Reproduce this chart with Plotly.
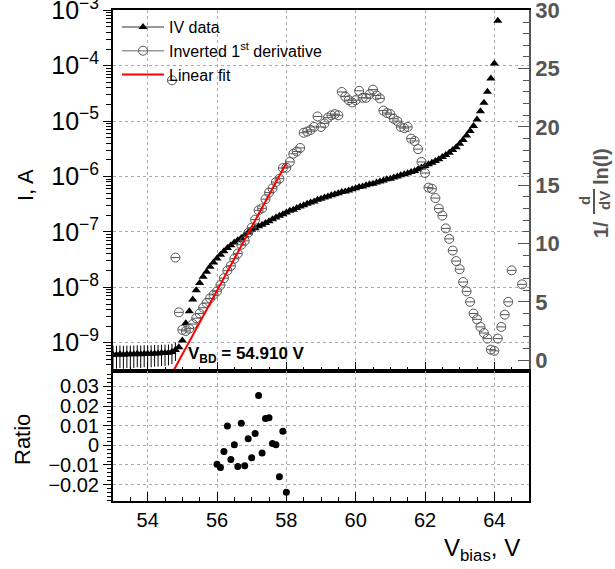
import plotly.graph_objects as go

FONT = "Liberation Sans, Arial, sans-serif"

# ---------------- data ----------------
iv_v = [53.0, 53.1, 53.2, 53.3, 53.4, 53.5, 53.6, 53.7, 53.8, 53.9,
        54.0, 54.1, 54.2, 54.3, 54.4, 54.5, 54.6, 54.7, 54.8, 54.9,
        55.0, 55.1, 55.2, 55.3, 55.4, 55.5, 55.6, 55.7, 55.8, 55.9,
        56.0, 56.1, 56.2, 56.3, 56.4, 56.5, 56.6, 56.7, 56.8, 56.9,
        57.0, 57.1, 57.2, 57.3, 57.4, 57.5, 57.6, 57.7, 57.8, 57.9,
        58.0, 58.1, 58.2, 58.3, 58.4, 58.5, 58.6, 58.7, 58.8, 58.9,
        59.0, 59.1, 59.2, 59.3, 59.4, 59.5, 59.6, 59.7, 59.8, 59.9,
        60.0, 60.1, 60.2, 60.3, 60.4, 60.5, 60.6, 60.7, 60.8, 60.9,
        61.0, 61.1, 61.2, 61.3, 61.4, 61.5, 61.6, 61.7, 61.8, 61.9,
        62.0, 62.1, 62.2, 62.3, 62.4, 62.5, 62.6, 62.7, 62.8, 62.9,
        63.0, 63.1, 63.2, 63.3, 63.4, 63.5, 63.6, 63.7, 63.8, 63.9,
        64.0, 64.1]
iv_i = [6.1e-10, 6.1e-10, 6.2e-10, 6.1e-10, 6.2e-10, 6.2e-10, 6.2e-10, 6.3e-10, 6.2e-10, 6.3e-10,
        6.3e-10, 6.3e-10, 6.4e-10, 6.4e-10, 6.5e-10, 6.5e-10, 6.6e-10, 6.8e-10, 7.4e-10, 8.3e-10,
        1.10e-9, 2.24e-9, 3.7e-9, 6.0e-9, 8.9e-9, 1.20e-8, 1.55e-8, 1.91e-8, 2.34e-8, 2.82e-8,
        3.31e-8, 3.89e-8, 4.47e-8, 5.13e-8, 5.75e-8, 6.46e-8, 7.08e-8, 7.76e-8, 8.71e-8, 9.77e-8,
        1.10e-7, 1.17e-7, 1.26e-7, 1.35e-7, 1.45e-7, 1.55e-7, 1.70e-7, 1.82e-7, 1.95e-7, 2.09e-7,
        2.24e-7, 2.40e-7, 2.51e-7, 2.69e-7, 2.88e-7, 3.02e-7, 3.24e-7, 3.39e-7, 3.55e-7, 3.80e-7,
        3.98e-7, 4.17e-7, 4.37e-7, 4.57e-7, 4.79e-7, 5.01e-7, 5.25e-7, 5.37e-7, 5.62e-7, 5.89e-7,
        6.17e-7, 6.46e-7, 6.61e-7, 6.92e-7, 7.24e-7, 7.41e-7, 7.76e-7, 8.13e-7, 8.51e-7, 8.91e-7,
        9.12e-7, 9.55e-7, 1.00e-6, 1.05e-6, 1.10e-6, 1.15e-6, 1.20e-6, 1.26e-6, 1.35e-6, 1.45e-6,
        1.55e-6, 1.66e-6, 1.78e-6, 1.91e-6, 2.04e-6, 2.24e-6, 2.45e-6, 2.69e-6, 3.02e-6, 3.39e-6,
        3.89e-6, 4.57e-6, 5.50e-6, 6.61e-6, 8.13e-6, 1.07e-5, 1.51e-5, 2.14e-5, 3.39e-5, 5.89e-5,
        1.10e-4, 6.46e-4]
iv_err = [2.7e-10] * 19 + [0.0] * 93

der_v = [54.7, 54.8, 54.9, 55.0, 55.1, 55.2, 55.3, 55.4, 55.5, 55.6, 55.7, 55.8, 55.9,
         56.0, 56.1, 56.2, 56.3, 56.4, 56.5, 56.6, 56.7, 56.8, 56.9,
         57.0, 57.1, 57.2, 57.3, 57.4, 57.5, 57.6, 57.7, 57.8, 57.9,
         58.0, 58.1, 58.2, 58.3, 58.4, 58.5, 58.6, 58.7, 58.8, 58.9,
         59.0, 59.1, 59.2, 59.3, 59.4, 59.5, 59.6, 59.7, 59.8, 59.9,
         60.0, 60.1, 60.2, 60.3, 60.4, 60.5, 60.6, 60.7, 60.8, 60.9,
         61.0, 61.1, 61.2, 61.3, 61.4, 61.5, 61.6, 61.7, 61.8, 61.9,
         62.0, 62.1, 62.2, 62.3, 62.4, 62.5, 62.6, 62.7, 62.8, 62.9,
         63.0, 63.1, 63.2, 63.3, 63.4, 63.5, 63.6, 63.7, 63.8, 63.9,
         64.0, 64.1, 64.2, 64.3, 64.4, 64.5, 64.8]
der_val = [24.0, 8.8, 4.1, 2.6, 2.5, 2.7, 3.1, 3.6, 4.0, 4.5, 4.9, 5.3, 5.6,
           5.90, 6.44, 7.03, 7.68, 8.09, 8.70, 9.14, 9.90, 10.23, 10.92,
           11.36, 12.05, 12.85, 13.02, 13.81, 14.37, 14.73, 15.27, 15.56, 16.48,
           16.50, 17.0, 17.7, 17.9, 18.2, 19.5, 19.6, 19.75, 20.0, 20.9,
           20.0, 20.3, 20.8, 21.0, 21.1, 21.0, 23.0, 22.6, 22.3, 22.1,
           22.3, 23.1, 22.5, 22.5, 22.8, 23.2, 22.7, 22.45, 21.4, 21.2,
           21.1, 20.7, 20.5, 20.0, 19.9, 20.0, 19.0, 18.8, 18.1, 17.0,
           16.05, 14.8, 14.7, 13.9, 13.0, 12.4, 11.3, 10.4, 9.4, 8.5,
           7.8, 6.7, 5.9, 5.0, 4.0, 3.5, 2.85, 2.33, 1.85, 0.9,
           0.8, 1.85, 2.85, 3.9, 5.0, 7.7, 6.5]

ratio_v = [56.0, 56.1, 56.2, 56.3, 56.4, 56.5, 56.6, 56.7, 56.8, 56.9, 57.0,
           57.1, 57.2, 57.3, 57.4, 57.5, 57.6, 57.7, 57.8, 57.9, 58.0]
ratio_val = [-0.0096, -0.0113, -0.0032, 0.0099, -0.0072, 0.0003, -0.0108, 0.0113, -0.0104, 0.0034, -0.0063,
             0.0060, 0.0254, -0.0039, 0.0137, 0.0140, 0.0009, 0.0003, -0.0160, 0.0072, -0.0239]

v_bd = 54.910
fit_slope = 5.47
fit_range = [54.6, 58.0]

x_ticks = [54, 56, 58, 60, 62, 64]

# ---------------- geometry helpers ----------------
W, H = 615, 569
L, R, T, B = 113, 86, 10, 68
PW, PH = W - L - R, H - T - B
split = (H - B - 371) / PH


def px(x):
    return (x - L) / PW


def py(y):
    return (H - B - y) / PH


fit_y = [fit_slope * (v - v_bd) for v in fit_range]

GRAY = "#555555"
fig = go.Figure()

# IV data
fig.add_trace(go.Scatter(
    x=iv_v, y=iv_i, mode="markers", xaxis="x", yaxis="y", showlegend=False,
    marker=dict(symbol="triangle-up", size=8, color="black"),
    error_y=dict(type="data", array=iv_err, color="black", thickness=1, width=0),
    error_x=dict(type="constant", value=0.07, color="black", thickness=1, width=0),
))
# inverted derivative
fig.add_trace(go.Scatter(
    x=der_v, y=der_val, mode="markers", xaxis="x", yaxis="y3", showlegend=False,
    marker=dict(symbol="circle-open", size=9, color=GRAY, line=dict(width=1, color=GRAY)),
    error_x=dict(type="constant", value=0.12, color=GRAY, thickness=1, width=0),
))
# linear fit
fig.add_trace(go.Scatter(
    x=fit_range, y=fit_y, mode="lines", xaxis="x", yaxis="y3", showlegend=False,
    line=dict(color="red", width=2),
))
# ratio
fig.add_trace(go.Scatter(
    x=ratio_v, y=ratio_val, mode="markers", xaxis="x2", yaxis="y2", showlegend=False,
    marker=dict(symbol="circle", size=7, color="black"),
))

# legend entries
fig.add_trace(go.Scatter(x=[None], y=[None], mode="lines+markers", name="IV data",
                         xaxis="x", yaxis="y",
                         line=dict(color="#777777", width=1.5),
                         marker=dict(symbol="triangle-up", size=8, color="black")))
fig.add_trace(go.Scatter(x=[None], y=[None], mode="lines+markers",
                         name="Inverted 1<sup>st</sup> derivative",
                         xaxis="x", yaxis="y3",
                         line=dict(color="#999999", width=1.5),
                         marker=dict(symbol="circle-open", size=9, color=GRAY)))
fig.add_trace(go.Scatter(x=[None], y=[None], mode="lines", name="Linear fit",
                         xaxis="x", yaxis="y3", line=dict(color="red", width=2)))

grid = dict(showgrid=True, gridcolor="#aaaaaa", griddash="dot", gridwidth=1)

xcommon = dict(range=[53, 65], tick0=54, dtick=2, ticks="inside", ticklen=9,
               tickcolor="black", tickwidth=1,
               minor=dict(dtick=0.5, ticks="inside", ticklen=4, tickcolor="black", showgrid=False),
               showline=True, linecolor="black", linewidth=1.5, mirror=True,
               zeroline=False, **grid)

fig.update_layout(
    width=W, height=H,
    margin=dict(l=L, r=R, t=T, b=B, pad=0, autoexpand=False),
    paper_bgcolor="white", plot_bgcolor="white",
    font=dict(family=FONT, color="black"),
    xaxis=dict(anchor="y", domain=[0, 1], showticklabels=False, **xcommon),
    xaxis2=dict(anchor="y2", domain=[0, 1], matches="x", showticklabels=True,
                tickvals=x_ticks, tickfont=dict(size=20, family=FONT), **xcommon),
    yaxis=dict(type="log", range=[-9.51, -2.995], domain=[split, 1], anchor="x",
               dtick=1, exponentformat="power", tickfont=dict(size=20, family=FONT),
               ticklabeloverflow="allow",
               ticks="outside", ticklen=8, tickcolor="black",
               minor=dict(ticks="outside", ticklen=5, tickcolor="black", showgrid=False),
               showline=True, linecolor="black", linewidth=2, zeroline=False, **grid),
    yaxis3=dict(overlaying="y", side="right", anchor="x", range=[-0.93, 30.03],
                tick0=0, dtick=5, ticks="inside", ticklen=11, tickcolor=GRAY,
                ticklabeloverflow="allow",
                minor=dict(dtick=1, ticks="inside", ticklen=6, tickcolor=GRAY, showgrid=False),
                tickfont=dict(size=22, family=FONT, color=GRAY, weight="bold"),
                showline=True, linecolor=GRAY, linewidth=1.5, showgrid=False, zeroline=False),
    yaxis2=dict(domain=[0, split], anchor="x2", range=[-0.0284, 0.0379],
                tick0=0, dtick=0.01, tickfont=dict(size=20, family=FONT),
                ticks="outside", ticklen=8, tickcolor="black",
                minor=dict(dtick=0.002, ticks="outside", ticklen=4, tickcolor="black", showgrid=False),
                showline=True, linecolor="black", linewidth=2, mirror=True, zeroline=False, **grid),
    legend=dict(x=px(117), y=1.0, xanchor="left", yanchor="top", bgcolor="rgba(0,0,0,0)",
                font=dict(size=16, family=FONT), tracegroupgap=0, itemwidth=42),
)

ann = []
ann.append(dict(x=px(25), y=py(185), text="I, A", textangle=-90,
                font=dict(size=22, family=FONT)))
ann.append(dict(x=px(22), y=py(440), text="Ratio", textangle=-90,
                font=dict(size=22, family=FONT)))
ann.append(dict(x=px(522), y=py(549), text="V<sub>bias</sub>, V", xanchor="right",
                font=dict(size=24, family=FONT)))
ann.append(dict(x=px(186), y=py(355), text="<b>V<sub>BD</sub> = 54.910 V</b>", xanchor="left",
                font=dict(size=17, family=FONT)))
# right axis title: 1/ (d/dV) ln(I)
rt = dict(size=20, family=FONT, color=GRAY, weight="bold")
ann.append(dict(x=px(601), y=py(167), text="ln(I)", textangle=-90, font=rt))
ann.append(dict(x=px(601), y=py(230), text="1/", textangle=-90, font=rt))
ann.append(dict(x=px(585), y=py(201), text="d", textangle=-90,
                font=dict(size=15, family=FONT, color=GRAY, weight="bold")))
ann.append(dict(x=px(605), y=py(201), text="dV", textangle=-90,
                font=dict(size=15, family=FONT, color=GRAY, weight="bold")))
for a in ann:
    a.setdefault("xanchor", "center")
    a.update(xref="paper", yref="paper", yanchor="middle", showarrow=False)
fig.update_layout(annotations=ann)
fig.add_shape(type="line", xref="paper", yref="paper", x0=px(594), x1=px(594),
              y0=py(189), y1=py(214), line=dict(color=GRAY, width=2))

fig.write_html("out.html")
